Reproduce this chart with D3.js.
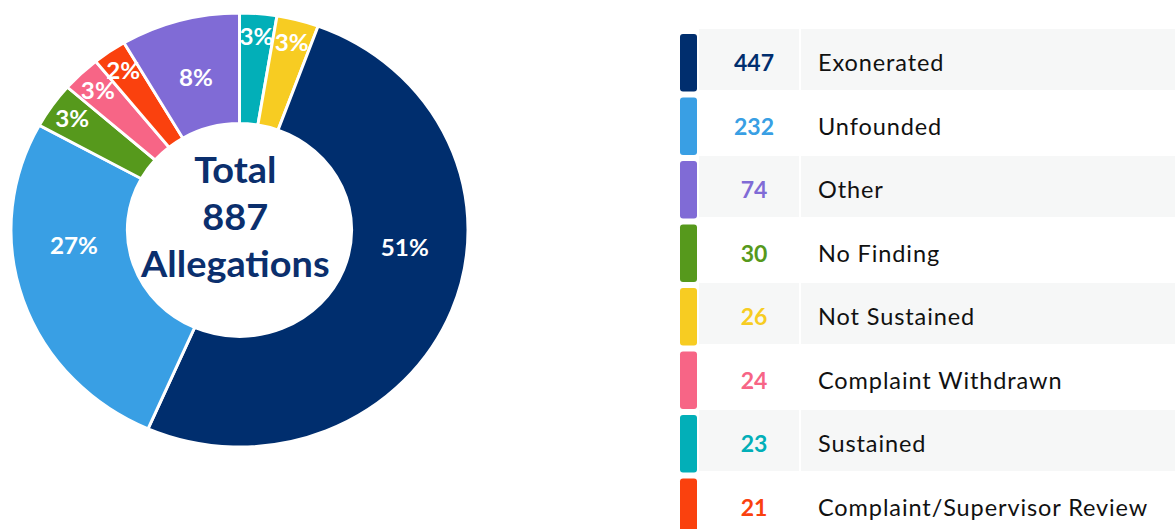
<!DOCTYPE html>
<html>
<head>
<meta charset="utf-8">
<script src="https://cdn.jsdelivr.net/npm/d3@7"></script>
<style>
  body { margin: 0; background: #fff; }
  svg { display: block; font-family: Lato, "Open Sans", sans-serif; }
</style>
</head>
<body>
<svg id="chart" width="1175" height="529"></svg>
<script>
// slices in drawing order, clockwise from 12 o'clock
const categories = ["Sustained", "Not Sustained", "Exonerated", "Unfounded",
  "No Finding", "Complaint Withdrawn", "Complaint/Supervisor Review", "Other"];
const counts = [23, 26, 447, 232, 30, 24, 21, 74];
const colors = ["#02afb8", "#f7cc22", "#002e6e", "#399fe4",
  "#56991c", "#f76586", "#fa410e", "#806bd6"];
const centerLines = ["Total", "887", "Allegations"];

// percentages rounded so they add up to 100 (largest remainder)
function roundedPercents(vals) {
  const tot = d3.sum(vals);
  const raw = vals.map(v => v / tot * 100);
  const out = raw.map(Math.floor);
  let left = 100 - d3.sum(out);
  d3.range(raw.length)
    .sort((a, b) => (raw[b] - out[b]) - (raw[a] - out[a]))
    .slice(0, left)
    .forEach(i => out[i] += 1);
  return out;
}

const data = categories.map((name, i) => ({ name, count: counts[i], color: colors[i] }));
const pcts = roundedPercents(counts);
data.forEach((d, i) => d.pct = pcts[i]);

const svg = d3.select("#chart");

// ----- donut -----
const cx = 239.5, cy = 230, sx = 1.053;
const rOuter = 217, rInner = 106.5;

const g = svg.append("g").attr("transform", `translate(${cx},${cy}) scale(${sx},1)`);

const pie = d3.pie().sort(null).value(d => d.count);
const arc = d3.arc().innerRadius(rInner).outerRadius(rOuter);
const arcs = pie(data);

g.selectAll("path.slice")
  .data(arcs)
  .join("path")
  .attr("class", "slice")
  .attr("d", arc)
  .attr("fill", d => d.data.color)
  .attr("stroke", "#fff")
  .attr("stroke-width", 2.8);

// label placement: small slices out near the rim, big ones pulled toward horizontal
function labelPos(d) {
  const mid = (d.startAngle + d.endAngle) / 2;
  let a = mid, r = 158;
  if (d.data.pct < 5) r = 194;
  else if (d.data.pct > 20) {
    const horiz = mid < Math.PI ? Math.PI / 2 : Math.PI * 1.5;
    a = mid + (horiz - mid) * 0.7;
  }
  return [r * Math.sin(a), -r * Math.cos(a)];
}

g.selectAll("text.pct")
  .data(arcs)
  .join("text")
  .attr("class", "pct")
  .attr("transform", d => `translate(${labelPos(d)})`)
  .attr("text-anchor", "middle")
  .attr("dy", "0.36em")
  .attr("fill", "#fff")
  .attr("font-weight", 700)
  .attr("font-size", 23)
  .text(d => d.data.pct + "%");

g.selectAll("text.center")
  .data(centerLines)
  .join("text")
  .attr("class", "center")
  .attr("x", -4)
  .attr("y", (d, i) => (i - 1) * 47)
  .attr("text-anchor", "middle")
  .attr("fill", "#0b2f6d")
  .attr("font-weight", 700)
  .attr("font-size", 36)
  .text(d => d);

// ----- legend table -----
const legendRows = d3.sort(data, (a, b) => b.count - a.count);
const y = d3.scaleBand()
  .domain(legendRows.map(d => d.name))
  .range([29, 29 + legendRows.length * 63.5]);

const rows = svg.append("g").selectAll("g.row")
  .data(legendRows)
  .join("g")
  .attr("class", "row")
  .attr("transform", d => `translate(0,${y(d.name)})`);

rows.filter((d, i) => i % 2 === 0)
  .append("rect")
  .attr("x", 699).attr("y", 0)
  .attr("width", 100).attr("height", 61)
  .attr("fill", "#f6f7f7");
rows.filter((d, i) => i % 2 === 0)
  .append("rect")
  .attr("x", 801).attr("y", 0)
  .attr("width", 374).attr("height", 61)
  .attr("fill", "#f6f7f7");

rows.append("rect")
  .attr("x", 680).attr("y", 5)
  .attr("width", 17).attr("height", 57.5)
  .attr("rx", 3)
  .attr("fill", d => d.color);

rows.append("text")
  .attr("x", 754).attr("y", 34)
  .attr("dy", "0.36em")
  .attr("text-anchor", "middle")
  .attr("font-weight", 700)
  .attr("font-size", 23)
  .attr("fill", d => d.color)
  .text(d => d.count);

rows.append("text")
  .attr("x", 818).attr("y", 34)
  .attr("dy", "0.36em")
  .attr("font-size", 23.5)
  .attr("letter-spacing", 0.9)
  .attr("fill", "#111")
  .text(d => d.name);
</script>
</body>
</html>
